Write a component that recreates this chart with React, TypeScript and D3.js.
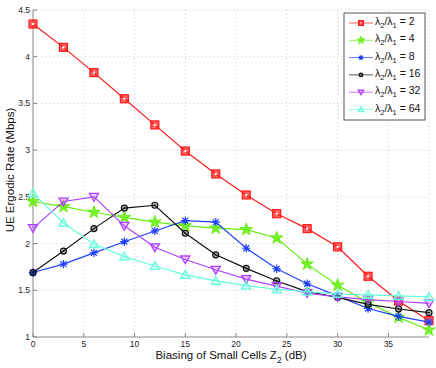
import React from "react";
import * as d3 from "d3";

const xValues = [0, 3, 6, 9, 12, 15, 18, 21, 24, 27, 30, 33, 36, 39];
const ratioLabels = ["2", "4", "8", "16", "32", "64"];
const seriesR2 = [4.35, 4.1, 3.83, 3.55, 3.27, 2.99, 2.745, 2.52, 2.32, 2.16, 1.965, 1.65, 1.385, 1.175];
const seriesR4 = [2.45, 2.395, 2.335, 2.28, 2.23, 2.19, 2.165, 2.15, 2.06, 1.78, 1.555, 1.37, 1.21, 1.075];
const seriesR8 = [1.69, 1.78, 1.9, 2.02, 2.135, 2.245, 2.23, 1.95, 1.73, 1.57, 1.44, 1.305, 1.22, 1.16];
const seriesR16 = [1.69, 1.92, 2.16, 2.38, 2.41, 2.11, 1.88, 1.735, 1.6, 1.485, 1.425, 1.35, 1.3, 1.26];
const seriesR32 = [2.165, 2.45, 2.5, 2.19, 1.96, 1.83, 1.72, 1.62, 1.545, 1.47, 1.43, 1.4, 1.38, 1.36];
const seriesR64 = [2.54, 2.22, 1.995, 1.86, 1.76, 1.665, 1.6, 1.55, 1.51, 1.485, 1.46, 1.45, 1.44, 1.43];
const xTicks = [0, 5, 10, 15, 20, 25, 30, 35];
const yTicks = [1, 1.5, 2, 2.5, 3, 3.5, 4, 4.5];

const allSeries = [seriesR2, seriesR4, seriesR8, seriesR16, seriesR32, seriesR64];
const colors = ["#ff1a1a", "#66ee11", "#2040ff", "#111111", "#b040ff", "#66ffdd"];
const markers = ["square", "star", "asterisk", "circle", "down", "up"];

const FONT = "'Liberation Sans', Arial, sans-serif";

function Marker({ type, x, y, color, k = 1 }: { type: string; x: number; y: number; color: string; k?: number }) {
  if (type === "square") {
    const h = 4 * k;
    return (
      <g>
        <rect x={x - h} y={y - h} width={2 * h} height={2 * h} fill={color} fillOpacity={0.7} stroke={color} strokeWidth={1.2} />
        <rect x={x - 1 * k} y={y - 1 * k} width={2 * k} height={2 * k} fill="#fff" />
      </g>
    );
  }
  if (type === "star") {
    const sym = d3.symbol().type(d3.symbolStar).size(48 * k * k)();
    return <path d={sym as string} transform={`translate(${x},${y})`} fill={color} fillOpacity={0.85} stroke={color} strokeWidth={1} />;
  }
  if (type === "asterisk") {
    const r = 4.2 * k;
    const lines = [0, 45, 90, 135].map((a) => {
      const rad = (a * Math.PI) / 180;
      return `M${x - r * Math.cos(rad)},${y - r * Math.sin(rad)}L${x + r * Math.cos(rad)},${y + r * Math.sin(rad)}`;
    });
    return <path d={lines.join("")} stroke={color} strokeWidth={1.2} fill="none" />;
  }
  if (type === "circle") {
    return (
      <g>
        <circle cx={x} cy={y} r={3 * k} fill={color} fillOpacity={0.3} stroke={color} strokeWidth={1.2} />
        <circle cx={x} cy={y} r={0.9 * k} fill={color} />
      </g>
    );
  }
  const s = 4.6 * k;
  const dir = type === "down" ? 1 : -1;
  return (
    <path
      d={`M${x - s},${y - dir * s * 0.75}L${x + s},${y - dir * s * 0.75}L${x},${y + dir * s * 0.95}Z`}
      fill={color}
      fillOpacity={0.25}
      stroke={color}
      strokeWidth={1.3}
    />
  );
}

export default function App() {
  const W = 436;
  const H = 368;
  const left = 33;
  const right = 429;
  const top = 10;
  const bottom = 337;

  const x = d3.scaleLinear().domain([0, 39]).range([left, right]);
  const y = d3.scaleLinear().domain([1, 4.5]).range([bottom, top]);
  const line = d3
    .line<number>()
    .x((_, i) => x(xValues[i]))
    .y((d) => y(d));

  const legX = 344;
  const legY = 13;
  const legW = 81;
  const legH = 107;

  return (
    <svg width={W} height={H} style={{ position: "absolute", left: 0, top: 0, background: "#fff" }} fontFamily={FONT}>
      <rect x={0} y={0} width={W} height={H} fill="#fff" />
      {xTicks.slice(1).concat([39]).map((t) => (
        <line key={"gx" + t} x1={x(t)} x2={x(t)} y1={top} y2={bottom} stroke="#bbb" strokeWidth={0.8} strokeDasharray="1,3" />
      ))}
      {yTicks.slice(1).map((t) => (
        <line key={"gy" + t} x1={left} x2={right} y1={y(t)} y2={y(t)} stroke="#bbb" strokeWidth={0.8} strokeDasharray="1,3" />
      ))}
      <line x1={left} x2={left} y1={top} y2={bottom} stroke="#888" strokeWidth={1} />
      <line x1={left} x2={right} y1={bottom} y2={bottom} stroke="#888" strokeWidth={1} />
      {xTicks.map((t) => (
        <g key={"xt" + t}>
          <line x1={x(t)} x2={x(t)} y1={bottom} y2={bottom - 4} stroke="#888" />
          <text x={x(t)} y={bottom + 10} fontSize={8.5} textAnchor="middle" fill="#222">
            {t}
          </text>
        </g>
      ))}
      {yTicks.map((t) => (
        <g key={"yt" + t}>
          <line x1={left} x2={left + 4} y1={y(t)} y2={y(t)} stroke="#888" />
          <text x={left - 3} y={y(t) + 3} fontSize={8.5} textAnchor="end" fill="#222">
            {t}
          </text>
        </g>
      ))}
      {allSeries.map((s, si) => (
        <g key={"s" + si}>
          <path d={line(s) as string} fill="none" stroke={colors[si]} strokeWidth={1.2} />
          {s.map((v, i) => (
            <Marker key={i} type={markers[si]} x={x(xValues[i])} y={y(v)} color={colors[si]} />
          ))}
        </g>
      ))}
      <text x={231} y={359} fontSize={11.5} textAnchor="middle" fill="#111">
        Biasing of Small Cells Z<tspan fontSize={8.5} dy={4}>2</tspan>
        <tspan dy={-4}> (dB)</tspan>
      </text>
      <text transform={`translate(14,170) rotate(-90)`} fontSize={11.5} textAnchor="middle" fill="#111">
        UE Ergodic Rate (Mbps)
      </text>
      <rect x={legX} y={legY} width={legW} height={legH} fill="#fff" stroke="#555" strokeWidth={1} />
      {ratioLabels.map((lab, i) => {
        const ly = legY + 10 + i * 17.3;
        return (
          <g key={"l" + i}>
            <line x1={legX + 5} x2={legX + 29} y1={ly} y2={ly} stroke={colors[i]} strokeOpacity={0.7} strokeWidth={1} />
            <Marker type={markers[i]} x={legX + 17} y={ly} color={colors[i]} k={0.6} />
            <text x={legX + 31} y={ly + 2} fontSize={10.5} fill="#111">
              λ<tspan fontSize={7.5} dy={3}>2</tspan>
              <tspan dy={-3}>/λ</tspan>
              <tspan fontSize={7.5} dy={3}>1</tspan>
              <tspan dy={-3}>{" = " + lab}</tspan>
            </text>
          </g>
        );
      })}
    </svg>
  );
}
